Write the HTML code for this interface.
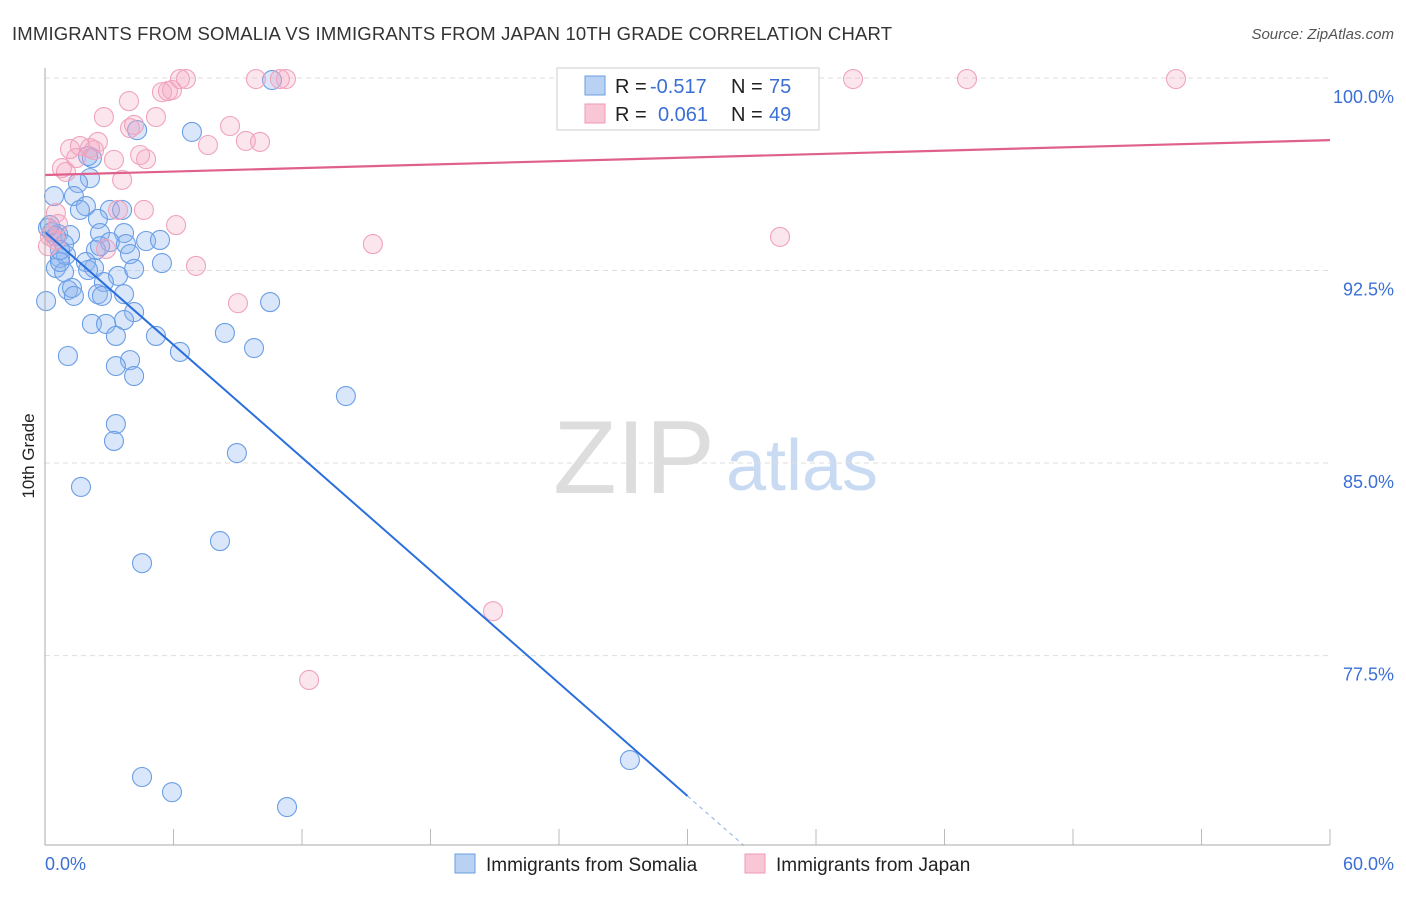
<!DOCTYPE html>
<html><head><meta charset="utf-8"><style>
body{margin:0;background:#fff;font-family:"Liberation Sans",sans-serif;}
svg text{font-family:"Liberation Sans",sans-serif;}
</style></head><body>
<svg id="chart" width="1406" height="892">
<text x="12" y="40" font-size="18.5" fill="#333" textLength="880">IMMIGRANTS FROM SOMALIA VS IMMIGRANTS FROM JAPAN 10TH GRADE CORRELATION CHART</text>
<text x="1394" y="39" font-size="15" fill="#555" font-style="italic" text-anchor="end">Source: ZipAtlas.com</text>
<text x="34" y="456" font-size="17" fill="#222" text-anchor="middle" transform="rotate(-90 34 456)">10th Grade</text>
<g>
<text x="634" y="493" font-size="104" fill="#ddd" font-family="Liberation Serif" text-anchor="middle">ZIP</text>
<text x="802" y="490" font-size="72" fill="#c9daf3" text-anchor="middle">atlas</text>
</g>
<g id="grid"></g><g id="pts"></g><g id="lines"></g>
<line x1="45" y1="68" x2="45" y2="845" stroke="#aaa"/>
<line x1="45" y1="845" x2="1330" y2="845" stroke="#aaa"/>
<text x="45" y="870" font-size="18" fill="#3b6fd6">0.0%</text>
<text x="1394" y="870" font-size="18" fill="#3b6fd6" text-anchor="end">60.0%</text>
<g>
<rect x="557" y="68" width="262" height="62" fill="#fff" stroke="#ccc"/>
<rect x="585" y="76" width="20" height="19" fill="#b9d1f3" stroke="#6a9ee0"/>
<rect x="585" y="104" width="20" height="19" fill="#f9c6d6" stroke="#ef9ab5"/>
<text x="615" y="93" font-size="20" fill="#222">R = </text><text x="650" y="93" font-size="20" fill="#3b6fd6">-0.517</text>
<text x="731" y="93" font-size="20" fill="#222">N = </text><text x="769" y="93" font-size="20" fill="#3b6fd6">75</text>
<text x="615" y="121" font-size="20" fill="#222">R = </text><text x="658" y="121" font-size="20" fill="#3b6fd6">0.061</text>
<text x="731" y="121" font-size="20" fill="#222">N = </text><text x="769" y="121" font-size="20" fill="#3b6fd6">49</text>
</g>
<g>
<rect x="455" y="854" width="20" height="19" fill="#b9d1f3" stroke="#6a9ee0"/>
<text x="486" y="871" font-size="19" fill="#222">Immigrants from Somalia</text>
<rect x="745" y="854" width="20" height="19" fill="#f9c6d6" stroke="#ef9ab5"/>
<text x="776" y="871" font-size="19" fill="#222">Immigrants from Japan</text>
</g>
</svg>
<script>
const yTicks=[100,92.5,85,77.5];
const yTickLabels=["100.0%","92.5%","85.0%","77.5%"];
const xTicks=[0,6,12,18,24,30,36,42,48,54,60];
const somaliaX=[10.60,6.86,4.30,2.19,2.01,2.10,1.54,0.42,1.35,1.91,1.63,3.03,3.60,2.47,0.14,0.33,0.61,1.17,2.57,3.69,4.72,3.03,3.78,2.38,3.97,0.70,1.91,5.46,0.51,2.29,0.89,3.41,4.16,2.75,1.07,1.26,1.35,2.47,2.66,0.05,10.51,4.16,3.69,2.19,2.85,3.31,5.18,8.40,6.30,9.76,1.07,3.97,3.31,4.16,14.05,3.31,3.22,8.96,1.68,8.17,4.53,27.31,4.53,5.93,11.30,5.37,0.89,0.98,0.70,2.01,2.57,0.51,3.69,0.23,0.70];
const somaliaY=[99.92,97.90,97.97,96.88,96.96,96.10,95.91,95.40,95.40,95.01,94.86,94.86,94.86,94.51,94.16,94.00,93.92,93.88,93.96,93.96,93.65,93.61,93.53,93.30,93.14,92.99,92.83,92.79,92.60,92.60,92.44,92.29,92.56,92.05,91.74,91.82,91.51,91.58,91.51,91.31,91.27,90.88,90.57,90.42,90.42,89.95,89.95,90.07,89.33,89.48,89.17,89.01,88.78,88.39,87.61,86.52,85.86,85.39,84.07,81.96,81.10,73.43,72.77,72.18,71.60,93.69,93.53,93.10,92.83,92.52,93.45,93.84,91.58,94.27,93.30];
const japanX=[6.30,6.58,9.85,10.97,11.25,28.53,31.70,37.73,43.05,52.81,5.74,5.93,5.46,3.92,2.75,5.18,4.16,3.97,8.64,9.38,10.04,7.61,2.47,1.17,1.63,2.29,3.22,4.72,4.44,1.45,0.79,0.98,3.60,3.41,4.62,0.51,6.12,0.23,0.51,0.14,2.85,7.05,9.01,15.31,34.32,20.92,12.33,0.61,2.10];
const japanY=[99.96,99.96,99.96,99.96,99.96,99.96,99.96,99.96,99.96,99.96,99.49,99.53,99.45,99.10,98.48,98.48,98.17,98.05,98.13,97.55,97.51,97.39,97.51,97.23,97.35,97.19,96.81,96.84,97.00,96.88,96.49,96.34,96.03,94.86,94.86,94.74,94.27,93.84,93.69,93.45,93.34,92.68,91.23,93.53,93.81,79.23,76.55,94.31,97.27];
const somaliaTrend=[[0,94.0],[30.0,72.03]];
const japanTrend=[[0,96.22],[60,97.58]];
const NS="http://www.w3.org/2000/svg";
const X=v=>45+v/60*1285;
const Y=v=>78+(100-v)*25.67;
function mk(t,a,p){const e=document.createElementNS(NS,t);for(const k in a)e.setAttribute(k,a[k]);p.appendChild(e);return e;}
const grid=document.getElementById('grid');
yTicks.forEach((t,i)=>{
 const l=mk('line',{x1:45,x2:1330,y1:Y(t),y2:Y(t),stroke:'#ddd','stroke-dasharray':'5,4'},grid);
 
 
 const tx=mk('text',{x:1394,y:Y(t)+25,'font-size':18,fill:'#3b6fd6','text-anchor':'end'},grid);
 tx.textContent=yTickLabels[i];
 
 
});
xTicks.forEach(t=>{
 const l=mk('line',{x1:X(t),x2:X(t),y1:829,y2:845,stroke:'#bbb'},grid);
 
 
});
const pts=document.getElementById('pts');
somaliaX.forEach((x,i)=>{
 const c=mk('circle',{cx:X(x),cy:Y(somaliaY[i]),r:9.5,fill:'rgba(140,180,240,0.32)',stroke:'#6a9ee6','stroke-width':1.1},pts);
 
 
});
japanX.forEach((x,i)=>{
 const c=mk('circle',{cx:X(x),cy:Y(japanY[i]),r:9.5,fill:'rgba(245,165,195,0.28)',stroke:'#f0a3bd','stroke-width':1.1},pts);
 
 
});
const lines=document.getElementById('lines');
const s=somaliaTrend,slope=(s[1][1]-s[0][1])/(s[1][0]-s[0][0]);
const bl=mk('line',{x1:X(s[0][0]),y1:Y(s[0][1]),x2:X(s[1][0]),y2:Y(s[1][1]),stroke:'#2a6fdb','stroke-width':2},lines);


const yEnd=70.1,xEnd=s[0][0]+(yEnd-s[0][1])/slope;
const bd=mk('line',{x1:X(s[1][0]),y1:Y(s[1][1]),x2:X(xEnd),y2:Y(yEnd),stroke:'#9bbbe8','stroke-width':1.2,'stroke-dasharray':'4,4'},lines);


const pl=mk('line',{x1:X(japanTrend[0][0]),y1:Y(japanTrend[0][1]),x2:X(japanTrend[1][0]),y2:Y(japanTrend[1][1]),stroke:'#e0608c','stroke-width':2.2},lines);


</script>
</body></html>
